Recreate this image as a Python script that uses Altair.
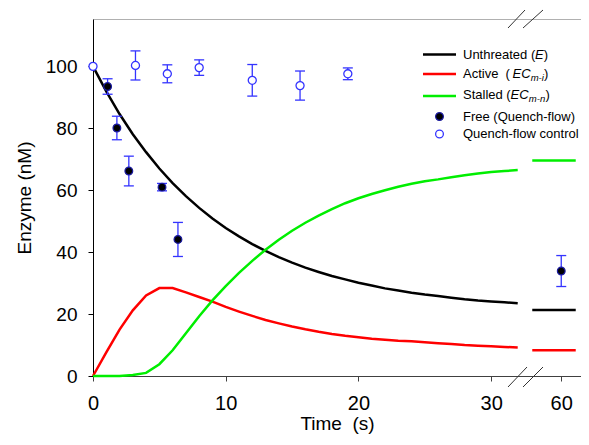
import altair as alt
import pandas as pd

# ---------------- data ----------------
t_curve = list(range(0, 33))
unthreated = [100, 91.9, 84.6, 78.1, 72.3, 67.0, 62.3, 58.1, 54.3, 50.9, 47.8, 45.1, 42.6,
              40.4, 38.4, 36.6, 35.0, 33.6, 32.3, 31.2, 30.1, 29.2, 28.3, 27.6, 26.9, 26.3,
              25.8, 25.3, 24.8, 24.4, 24.1, 23.8, 23.5]
active = [0, 7.6, 15.0, 21.2, 26.0, 28.4, 28.4, 27.0, 25.5, 24.0, 22.3, 20.8, 19.4, 18.1,
          17.0, 16.0, 15.1, 14.3, 13.6, 13.0, 12.5, 12.0, 11.7, 11.4, 11.2, 10.9, 10.6,
          10.3, 10.0, 9.8, 9.6, 9.4, 9.2]
stalled = [0, 0, 0, 0.3, 1.0, 3.8, 8.3, 13.8, 19.3, 24.4, 29.0, 33.3, 37.2, 40.8, 44.0,
           46.9, 49.5, 51.8, 53.9, 55.8, 57.4, 58.8, 60.0, 61.1, 62.1, 62.9, 63.5, 64.2,
           64.8, 65.4, 65.9, 66.2, 66.5]

t_late = [57.8, 61.1]
unthreated_late = [21.3, 21.3]
active_late = [8.3, 8.3]
stalled_late = [69.6, 69.6]

t_free = [1.1, 1.8, 2.7, 5.2, 6.4, 60]
free = [93.5, 80.1, 66.2, 61.0, 44.1, 33.9]
free_err = [2.5, 3.8, 4.8, 1.2, 5.5, 5.0]

t_ctrl = [0, 3.2, 5.6, 8.0, 12.0, 15.6, 19.2]
ctrl = [100, 100.3, 97.6, 99.6, 95.5, 93.8, 97.6]
ctrl_err = [0, 4.7, 2.9, 2.5, 5.1, 4.7, 1.9]

series_names = ["Unthreated", "Active", "Stalled"]
series_colors = ["#000000", "#ff0000", "#00ee00"]
x_ticks = [0, 10, 20, 30, 60]
y_ticks = [0, 20, 40, 60, 80, 100]

# ---------------- tables ----------------
rows = []
for name, early, late in [("Unthreated", unthreated, unthreated_late),
                          ("Active", active, active_late),
                          ("Stalled", stalled, stalled_late)]:
    for t, v in zip(t_curve, early):
        rows.append({"series": name, "seg": name + "_a", "t": t, "v": v})
    for t, v in zip(t_late, late):
        rows.append({"series": name, "seg": name + "_b", "t": t, "v": v})
curves = pd.DataFrame(rows)

free_df = pd.DataFrame({"t": t_free, "v": free, "err": free_err})
free_df["lo"] = free_df["v"] - free_df["err"]
free_df["hi"] = free_df["v"] + free_df["err"]
ctrl_df = pd.DataFrame({"t": t_ctrl, "v": ctrl, "err": ctrl_err})
ctrl_df["lo"] = ctrl_df["v"] - ctrl_df["err"]
ctrl_df["hi"] = ctrl_df["v"] + ctrl_df["err"]
ctrl_err_df = ctrl_df[ctrl_df["err"] > 0]

FONT = "Liberation Sans"
BLUE = "#3434ff"

W, H = 488, 357
xscale = alt.Scale(domain=[0, 32.7, 57.4, 61.5], range=[0, 434, 434, W], nice=False, zero=False)
yscale = alt.Scale(domain=[0, 115.3], nice=False)

xaxis = alt.Axis(values=x_ticks, title="Time\u00a0 (s)", grid=False, tickSize=5,
                 labelPadding=12, titlePadding=1, domainColor="#404040", tickColor="#404040",
                 labelFontSize=20, titleFontSize=19, labelFont=FONT, titleFont=FONT,
                 labelColor="black", titleColor="black", titleFontWeight="normal",
                 labelFlush=False, labelOverlap=False)
yaxis = alt.Axis(values=y_ticks, title="Enzyme (nM)", grid=False, tickSize=5,
                 labelPadding=11, titlePadding=11, domainColor="black", tickColor="black",
                 labelFontSize=19, titleFontSize=19, labelFont=FONT, titleFont=FONT,
                 labelColor="black", titleColor="black", titleFontWeight="normal")

X = alt.X("t:Q", scale=xscale, axis=xaxis)
Y = alt.Y("v:Q", scale=yscale, axis=yaxis)

lines = alt.Chart(curves).mark_line(strokeWidth=2.5).encode(
    x=X, y=Y,
    color=alt.Color("series:N", scale=alt.Scale(domain=series_names, range=series_colors), legend=None),
    detail="seg:N",
)

def errbars(df):
    base = alt.Chart(df)
    r = base.mark_rule(color=BLUE, strokeWidth=1.3).encode(
        x=alt.X("t:Q", scale=xscale), y=alt.Y("lo:Q", scale=yscale), y2="hi:Q")
    c1 = base.mark_tick(color=BLUE, orient="horizontal", size=10, thickness=1.3, opacity=1).encode(
        x=alt.X("t:Q", scale=xscale), y=alt.Y("lo:Q", scale=yscale))
    c2 = base.mark_tick(color=BLUE, orient="horizontal", size=10, thickness=1.3, opacity=1).encode(
        x=alt.X("t:Q", scale=xscale), y=alt.Y("hi:Q", scale=yscale))
    return r + c1 + c2

free_pts = alt.Chart(free_df).mark_circle(fill="black", stroke="#1a1aa0", strokeWidth=1.2,
                                          size=60, opacity=1).encode(
    x=alt.X("t:Q", scale=xscale), y=alt.Y("v:Q", scale=yscale))
ctrl_pts = alt.Chart(ctrl_df).mark_circle(fill="white", stroke=BLUE, strokeWidth=1.3,
                                          size=65, opacity=1).encode(
    x=alt.X("t:Q", scale=xscale), y=alt.Y("v:Q", scale=yscale))

# ---------------- custom legend (rich text) ----------------
one = pd.DataFrame({"a": [0]})
leg = []
LX1, LX2, TX = 330, 363, 370
for yy, col in [(35.5, "#000000"), (55, "#ff0000"), (77, "#00ee00")]:
    leg.append(alt.Chart(one).mark_rule(color=col, strokeWidth=2.5).encode(
        x=alt.value(LX1), x2=alt.value(LX2), y=alt.value(yy)))
leg.append(alt.Chart(one).mark_circle(fill="black", stroke="#1a1aa0", strokeWidth=1.2, size=60,
                                      opacity=1).encode(x=alt.value(346.5), y=alt.value(97.5)))
leg.append(alt.Chart(one).mark_circle(fill="white", stroke=BLUE, strokeWidth=1.3, size=60,
                                      opacity=1).encode(x=alt.value(346.5), y=alt.value(115)))

segments = [
    ("Unthreated (", TX, 36, "normal", 13, 0),
    ("E", 442, 36, "italic", 13, 0),
    (")", 450.7, 36, "normal", 13, 0),
    ("Active\u00a0 (", TX, 54.5, "normal", 13, 0),
    ("EC", 419.5, 54.5, "italic", 13, 0),
    ("m-i", 437.7, 54.5, "italic", 9.5, 4),
    (")", 451.1, 54.5, "normal", 13, 0),
    ("Stalled (", TX, 75.5, "normal", 13, 0),
    ("EC", 417.6, 75.5, "italic", 13, 0),
    ("m-n", 435.8, 75.5, "italic", 9.5, 4),
    (")", 452.4, 75.5, "normal", 13, 0),
    ("Free (Quench-flow)", TX, 97.5, "normal", 13, 0),
    ("Quench-flow control", TX, 115, "normal", 13, 0),
]
for txt, xx, yy, style, fs, dy in segments:
    leg.append(alt.Chart(one).mark_text(align="left", baseline="middle", font=FONT, fontSize=fs,
                                        fontStyle=style, dy=dy, color="black").encode(
        x=alt.value(xx), y=alt.value(yy), text=alt.value(txt)))

# axis-break slashes
for (x1, y1, x2, y2) in [(415, 368, 434, 348), (430, 368, 450, 348),
                         (415, 9, 432, -9), (430, 9, 450, -9)]:
    leg.append(alt.Chart(one).mark_rule(color="#333333", strokeWidth=1).encode(
        x=alt.value(x1), y=alt.value(y1), x2=alt.value(x2), y2=alt.value(y2)))

chart = alt.layer(lines, errbars(ctrl_err_df), errbars(free_df), ctrl_pts, free_pts, *leg).properties(
    width=W, height=H,
    autosize=alt.AutoSizeParams(type="none"),
    padding={"left": 85, "top": 11, "right": 0, "bottom": 61},
    background="white",
).configure_view(stroke="#b0b0b0", strokeWidth=1)

chart.save("out.html", embed_options={"renderer": "svg", "actions": False})
